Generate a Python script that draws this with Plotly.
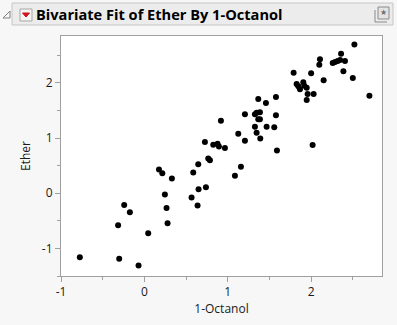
import plotly.graph_objects as go

# 1-Octanol vs Ether measurements
octanol = [-0.774, -0.315, -0.302, -0.242, -0.174, -0.07, 0.046, 0.175, 0.215, 0.33,
           0.246, 0.266, 0.278, 0.566, 0.586, 0.646, 0.65, 0.638, 0.738, 0.766,
           0.786, 0.726, 0.826, 0.878, 0.894, 0.918, 0.966, 1.126, 1.158, 1.086,
           1.206, 1.206, 1.326, 1.346, 1.386, 1.366, 1.458, 1.578, 1.366, 1.386,
           1.326, 1.346, 1.39, 1.466, 1.558, 1.578, 1.59, 1.79, 1.826, 1.846,
           1.866, 1.906, 1.918, 1.947, 1.958, 2.03, 1.947, 2.0, 2.018, 2.106,
           2.098, 2.15, 2.259, 2.287, 2.319, 2.347, 2.406, 2.359, 2.387, 2.5,
           2.519, 2.699]
ether = [-1.158, -0.582, -1.188, -0.212, -0.345, -1.309, -0.727, 0.43, 0.364, 0.267,
         -0.024, -0.267, -0.545, -0.079, 0.376, 0.527, 0.073, -0.224, 0.109, 0.63,
         0.6, 0.927, 0.878, 0.895, 0.848, 1.315, 0.818, 1.078, 0.479, 0.315,
         1.43, 0.952, 1.43, 1.46, 1.47, 1.709, 1.636, 1.745, 1.34, 1.34,
         1.206, 1.097, 0.994, 1.206, 1.194, 1.412, 0.776, 2.182, 1.98, 1.94,
         1.885, 2.012, 1.95, 1.91, 1.8, 1.8, 1.69, 2.176, 0.873, 2.43,
         2.327, 2.049, 2.36, 2.38, 2.398, 2.415, 2.395, 2.527, 2.213, 2.09,
         2.696, 1.765]

x_ticks = [-1, 0, 1, 2]
y_ticks = [-1, 0, 1, 2]
title_text = "Bivariate Fit of Ether By 1-Octanol"

W, H = 397, 325
L, R, T, B = 61, 15, 36, 49
PW, PH = W - L - R, H - T - B


def px(x):
    return (x - L) / PW


def py(y):
    return (H - B - y) / PH


fig = go.Figure(go.Scatter(
    x=octanol, y=ether, mode="markers",
    marker=dict(color="black", size=6, line=dict(width=0)),
    hoverinfo="x+y",
))

axis_common = dict(
    showgrid=False, zeroline=False, showline=True, mirror=True,
    linecolor="#a0a0a0", linewidth=1,
    ticks="outside", ticklen=5, tickcolor="#a0a0a0",
    tickfont=dict(family="Open Sans", size=12, color="#1a1a1a"),
    minor=dict(ticks="outside", ticklen=3, tickcolor="#a0a0a0", dtick=0.5, showgrid=False),
)

fig.update_layout(
    width=W, height=H,
    margin=dict(l=L, r=R, t=T, b=B),
    paper_bgcolor="#f7f7f7", plot_bgcolor="white",
    showlegend=False,
    xaxis=dict(range=[-1, 2.85], tickvals=x_ticks, ticktext=[str(v) for v in x_ticks],
               title=dict(text="1-Octanol", font=dict(family="Open Sans", size=12, color="#1a1a1a"), standoff=4),
               **axis_common),
    yaxis=dict(range=[-1.5, 2.85], tickvals=y_ticks, ticktext=[str(v) for v in y_ticks],
               title=dict(text="Ether", font=dict(family="Open Sans", size=12, color="#1a1a1a"), standoff=8),
               **axis_common),
)

shapes = []
# header bar
shapes.append(dict(type="rect", xref="paper", yref="paper",
                   x0=px(12), x1=px(393), y0=py(3), y1=py(25),
                   fillcolor="#ececec", line=dict(color="#c6c6c6", width=1), layer="above"))
# disclosure triangle
shapes.append(dict(type="path", xref="paper", yref="paper",
                   path=f"M {px(3)} {py(18)} L {px(10)} {py(18)} L {px(10)} {py(11)} Z",
                   fillcolor="rgba(0,0,0,0)", line=dict(color="#808080", width=1)))
# red triangle menu button
shapes.append(dict(type="rect", xref="paper", yref="paper",
                   x0=px(20), x1=px(32), y0=py(9), y1=py(21),
                   fillcolor="#f4f4f4", line=dict(color="#a8a8a8", width=1)))
shapes.append(dict(type="path", xref="paper", yref="paper",
                   path=f"M {px(22.5)} {py(13)} L {px(29.5)} {py(13)} L {px(26)} {py(17)} Z",
                   fillcolor="#d0141b", line=dict(color="#d0141b", width=1)))
# pin icon at right of header
shapes.append(dict(type="path", xref="paper", yref="paper",
                   path=f"M {px(375)} {py(10)} L {px(375)} {py(22)} L {px(387)} {py(22)}",
                   fillcolor="rgba(0,0,0,0)", line=dict(color="#8a8a8a", width=1)))
shapes.append(dict(type="rect", xref="paper", yref="paper",
                   x0=px(378), x1=px(389), y0=py(7), y1=py(19),
                   fillcolor="#e4e4e4", line=dict(color="#8a8a8a", width=1)))
fig.update_layout(shapes=shapes)

fig.add_annotation(x=px(33.5), y=py(14), xref="paper", yref="paper",
                   text=f"<b>{title_text}</b>", showarrow=False,
                   xanchor="left", yanchor="middle",
                   font=dict(family="Open Sans", size=14.6, color="black"))
fig.add_annotation(x=px(383.5), y=py(13), xref="paper", yref="paper",
                   text="★", showarrow=False, xanchor="center", yanchor="middle",
                   font=dict(family="DejaVu Sans", size=8, color="#707070"))

fig.write_html("out.html")
